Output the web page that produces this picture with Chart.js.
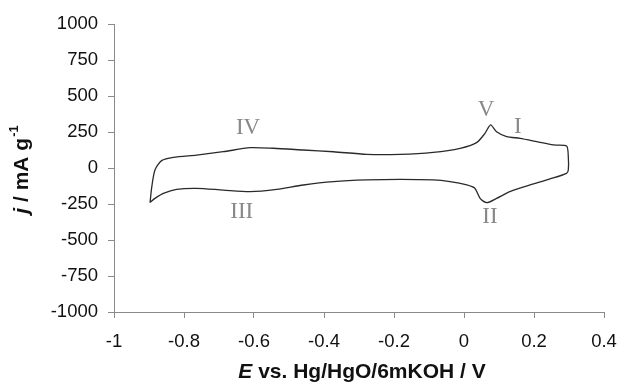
<!DOCTYPE html>
<html>
<head>
<meta charset="utf-8">
<script src="https://cdn.jsdelivr.net/npm/chart.js@4.4.1/dist/chart.umd.min.js"></script>
<style>
    html, body { margin: 0; padding: 0; background: #fff; }
    #cv { display: block; }
</style>
</head>
<body>
<canvas id="cv" width="621" height="390"></canvas>
<script>
// cyclic voltammogram, one closed loop starting at the lower-left turning point
const potentialV = [
    -0.897, -0.892, -0.883, -0.864, -0.830, -0.764, -0.688, -0.611, -0.545, -0.459,
    -0.373, -0.278, -0.183, -0.088, -0.011, 0.036, 0.060, 0.076, 0.093, 0.122,
    0.160, 0.208, 0.255, 0.293, 0.298, 0.298, 0.293, 0.246, 0.189, 0.131,
    0.093, 0.065, 0.046, 0.031, 0.008, -0.040, -0.088, -0.183, -0.278, -0.373,
    -0.459, -0.535, -0.611, -0.688, -0.764, -0.821, -0.859, -0.883, -0.897
];
const currentJ = [
    -240, -130, -14, 51, 74, 90, 113, 141, 137, 125,
    113, 95, 95, 109, 137, 176, 241, 300, 252, 218,
    206, 183, 160, 153, 78, -14, -37, -76, -118, -164,
    -211, -241, -211, -141, -118, -95, -83, -79, -83, -95,
    -118, -148, -164, -153, -141, -148, -176, -211, -240
];

// peak labels
const peakNames = ['I', 'II', 'III', 'IV', 'V'];
const peakX = [0.154, 0.074, -0.635, -0.617, 0.063];
const peakY = [287, -338, -303, 278, 403];

const xTicks = { min: -1, max: 0.4, step: 0.2 };
const yTicks = { min: -1000, max: 1000, step: 250 };

const axisGrey = '#8a8a8a';

let points = potentialV.map((v, i) => ({ x: v, y: currentJ[i] }));

// axis titles and peak names drawn by hand (mixed italic / superscript)
const labelPlugin = {
    id: 'cvLabels',
    afterDraw(chart) {
        let ctx = chart.ctx;
        let xs = chart.scales.x, ys = chart.scales.y;

        ctx.save();
        ctx.fillStyle = '#888';
        ctx.font = '23px "Liberation Serif", "Times New Roman", serif';
        ctx.textAlign = 'center';
        ctx.textBaseline = 'middle';
        peakNames.forEach((name, i) => {
            ctx.fillText(name, xs.getPixelForValue(peakX[i]), ys.getPixelForValue(peakY[i]));
        });
        ctx.restore();

        // x title
        ctx.save();
        ctx.fillStyle = '#111';
        ctx.textBaseline = 'middle';
        let italic = 'italic bold 21px "Liberation Sans", Arial, sans-serif';
        let bold = 'bold 21px "Liberation Sans", Arial, sans-serif';
        let partA = 'E', partB = ' vs. Hg/HgO/6mKOH / V';
        ctx.font = italic; let wA = ctx.measureText(partA).width;
        ctx.font = bold; let wB = ctx.measureText(partB).width;
        let x0 = 362 - (wA + wB) / 2;
        ctx.textAlign = 'left';
        ctx.font = italic; ctx.fillText(partA, x0, 372);
        ctx.font = bold; ctx.fillText(partB, x0 + wA, 372);
        ctx.restore();

        // y title, rotated
        ctx.save();
        ctx.translate(22, 170);
        ctx.rotate(-Math.PI / 2);
        ctx.fillStyle = '#111';
        ctx.textBaseline = 'middle';
        ctx.textAlign = 'left';
        let sup = 'bold 13px "Liberation Sans", Arial, sans-serif';
        let j = 'j', mid = ' / mA g', pw = '-1';
        ctx.font = italic; let wj = ctx.measureText(j).width;
        ctx.font = bold; let wm = ctx.measureText(mid).width;
        ctx.font = sup; let wp = ctx.measureText(pw).width;
        let y0 = -(wj + wm + wp) / 2;
        ctx.font = italic; ctx.fillText(j, y0, 0);
        ctx.font = bold; ctx.fillText(mid, y0 + wj, 0);
        ctx.font = sup; ctx.fillText(pw, y0 + wj + wm + 1, -8);
        ctx.restore();
    }
};

const tickFont = { family: '"Liberation Sans", Arial, sans-serif', size: 18.5 };

new Chart(document.getElementById('cv').getContext('2d'), {
    type: 'scatter',
    data: {
        datasets: [{
            data: points,
            showLine: true,
            borderColor: '#2a2a2a',
            borderWidth: 1.3,
            pointRadius: 0,
            tension: 0.25,
            fill: false
        }]
    },
    options: {
        responsive: false,
        animation: false,
        devicePixelRatio: 1,
        layout: { padding: { left: 0, right: 17, top: 24, bottom: 0 } },
        plugins: { legend: { display: false }, tooltip: { enabled: false } },
        scales: {
            x: {
                type: 'linear',
                min: xTicks.min, max: xTicks.max,
                border: { display: true, color: axisGrey, width: 1 },
                grid: { drawOnChartArea: false, drawTicks: true, tickLength: 6, color: axisGrey },
                ticks: {
                    stepSize: xTicks.step, color: '#111', font: tickFont, padding: 13,
                    callback: v => String(parseFloat(v.toFixed(1)) || 0)
                },
                afterFit: s => { s.height = 78; s.paddingLeft = 0; s.paddingRight = 0; }
            },
            y: {
                type: 'linear',
                min: yTicks.min, max: yTicks.max,
                border: { display: true, color: axisGrey, width: 1 },
                grid: { drawOnChartArea: false, drawTicks: true, tickLength: 6, color: axisGrey },
                ticks: {
                    stepSize: yTicks.step, color: '#111', font: tickFont, padding: 10,
                    callback: v => String(v)
                },
                afterFit: s => { s.width = 114; s.paddingTop = 0; s.paddingBottom = 0; }
            }
        }
    },
    plugins: [labelPlugin]
});
</script>
</body>
</html>
